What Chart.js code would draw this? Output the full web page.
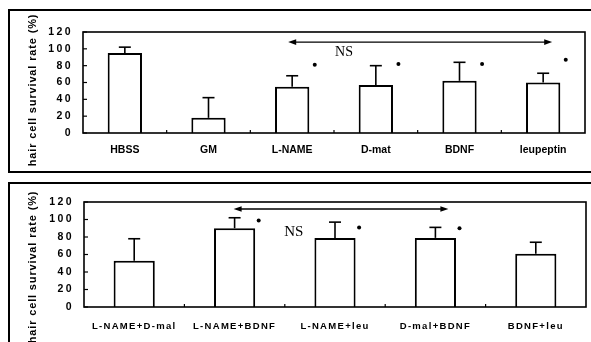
<!DOCTYPE html>
<html><head><meta charset="utf-8">
<script src="https://cdn.jsdelivr.net/npm/chart.js@4.4.1/dist/chart.umd.min.js"></script>
<style>
html,body{margin:0;padding:0;background:#fff;width:591px;height:342px;overflow:hidden;position:relative}
.panel{position:absolute;border:2px solid #000;box-sizing:border-box}
#p1{left:8px;top:9px;width:600px;height:164px}
#p2{left:8px;top:182px;width:600px;height:200px}
.cv{position:absolute}
#w1{left:10px;top:12px;width:581px;height:158px}
#w2{left:10px;top:185px;width:581px;height:157px}
</style></head>
<body>
<div class="panel" id="p1"></div>
<div class="panel" id="p2"></div>
<div class="cv" id="w1"><canvas id="c1"></canvas></div>
<div class="cv" id="w2"><canvas id="c2"></canvas></div>
<script>
// ---- data ----
const yTicks = [0, 20, 40, 60, 80, 100, 120];
const yTitle = 'hair cell survival rate (%)';

const topCategories = ['HBSS', 'GM', 'L-NAME', 'D-mat', 'BDNF', 'leupeptin'];
const topMeans = [95, 18, 55, 57, 62, 60];
const topErrors = [7, 24, 13, 23, 22, 11];
const topSignificance = [null, null, 81, 82, 82, 87];
const topNSRange = [2, 5];      // categories spanned by the NS arrow
const topNSLevel = 108;         // value at which the NS arrow is drawn
const topNSLabelValue = 96;

const bottomCategories = ['L-NAME+D-mal', 'L-NAME+BDNF', 'L-NAME+leu', 'D-mal+BDNF', 'BDNF+leu'];
const bottomMeans = [53, 90, 79, 79, 61];
const bottomErrors = [25, 12, 18, 12, 13];
const bottomSignificance = [null, 99, 91, 90, null];
const bottomNSRange = [1, 3];
const bottomNSLevel = 112;
const bottomNSLabelValue = 86;

// ---- plugins ----
const spacing = {
  id: 'spacing',
  beforeDraw(chart, args, o) {
    ['x', 'y'].forEach(k => {
      const s = chart.scales[k];
      if (!s || s._spPatched) return;
      const orig = s.drawLabels.bind(s);
      s.drawLabels = function (area) {
        const c = this.ctx; const prev = c.letterSpacing;
        c.letterSpacing = o[k] || '0px';
        orig(area);
        c.letterSpacing = prev;
      };
      s._spPatched = true;
    });
  }
};

const decor = {
  id: 'decor',
  afterDatasetsDraw(chart, args, o) {
    const ctx = chart.ctx, xs = chart.scales.x, ys = chart.scales.y, a = chart.chartArea;
    const line = (x1, y1, x2, y2) => { ctx.beginPath(); ctx.moveTo(x1, y1); ctx.lineTo(x2, y2); ctx.stroke(); };
    ctx.save();
    ctx.strokeStyle = '#000'; ctx.fillStyle = '#000';
    ctx.lineWidth = 1.6;
    ctx.strokeRect(a.left, a.top, a.right - a.left, a.bottom - a.top);
    // inward y ticks
    ctx.lineWidth = 1.2;
    ys.ticks.forEach(t => { const py = ys.getPixelForValue(t.value); line(a.left, py, a.left + 4, py); });
    // category boundary ticks
    const n = chart.data.labels.length, w = (a.right - a.left) / n;
    for (let i = 1; i < n; i++) { const px = a.left + i * w; line(px, a.bottom, px, a.bottom - 3); }
    // error bars
    ctx.lineWidth = 1.6;
    o.means.forEach((m, i) => {
      const px = xs.getPixelForValue(i);
      const y0 = ys.getPixelForValue(m), y1 = ys.getPixelForValue(m + o.errors[i]);
      line(px, y0, px, y1); line(px - 6, y1, px + 6, y1);
    });
    // significance dots
    o.sig.forEach((v, i) => {
      if (v == null) return;
      const px = xs.getPixelForValue(i) + w * o.dotOffset;
      ctx.beginPath(); ctx.arc(px, ys.getPixelForValue(v), 2, 0, Math.PI * 2); ctx.fill();
    });
    // NS arrow
    const ay = ys.getPixelForValue(o.nsLevel);
    const ax1 = xs.getPixelForValue(o.nsRange[0]) + o.nsPad[0];
    const ax2 = xs.getPixelForValue(o.nsRange[1]) + o.nsPad[1];
    ctx.lineWidth = 1.3;
    line(ax1 + 5, ay, ax2 - 5, ay);
    ctx.beginPath(); ctx.moveTo(ax1, ay); ctx.lineTo(ax1 + 8, ay - 2.8); ctx.lineTo(ax1 + 8, ay + 2.8); ctx.closePath(); ctx.fill();
    ctx.beginPath(); ctx.moveTo(ax2, ay); ctx.lineTo(ax2 - 8, ay - 2.8); ctx.lineTo(ax2 - 8, ay + 2.8); ctx.closePath(); ctx.fill();
    // NS label
    ctx.font = o.nsFont;
    ctx.textAlign = 'center'; ctx.textBaseline = 'middle';
    ctx.fillText('NS', xs.getPixelForValue(o.nsLabelPos[0]) + w * o.nsLabelPos[1], ys.getPixelForValue(o.nsLabelValue));
    // y title
    ctx.translate(o.titleX, o.titleY);
    ctx.rotate(-Math.PI / 2);
    ctx.font = 'bold 11px "Liberation Sans", Arial, sans-serif';
    ctx.letterSpacing = '0.85px';
    ctx.fillText(yTitle, 0, 0);
    ctx.restore();
  }
};

function makeChart(id, labels, means, errors, sig, cfg) {
  return new Chart(document.getElementById(id), {
    type: 'bar',
    data: {
      labels: labels,
      datasets: [{
        data: means,
        backgroundColor: '#fff',
        borderColor: '#000',
        borderWidth: 2,
        categoryPercentage: 1,
        barPercentage: 0.41
      }]
    },
    options: {
      responsive: true, maintainAspectRatio: false, animation: false, devicePixelRatio: 1,
      layout: { padding: cfg.padding },
      plugins: {
        legend: { display: false }, tooltip: { enabled: false },
        spacing: { x: cfg.xSpacing, y: '2.4px' },
        decor: {
          means: means, errors: errors, sig: sig, dotOffset: cfg.dotOffset,
          nsRange: cfg.nsRange, nsLevel: cfg.nsLevel, nsPad: cfg.nsPad,
          nsLabelPos: cfg.nsLabelPos, nsLabelValue: cfg.nsLabelValue, nsFont: cfg.nsFont,
          titleX: 23, titleY: cfg.titleY
        }
      },
      scales: {
        x: {
          grid: { display: false, drawTicks: false }, border: { display: false },
          ticks: { color: '#000', font: { family: '"Liberation Sans", Arial, sans-serif', size: cfg.xFont, weight: 'bold' }, padding: cfg.xPad, maxRotation: 0, autoSkip: false },
          afterFit: s => { s.height = cfg.xHeight; }
        },
        y: {
          min: 0, max: 120,
          grid: { display: false, drawTicks: false }, border: { display: false },
          afterBuildTicks: s => { s.ticks = yTicks.map(v => ({ value: v })); },
          ticks: { color: '#000', font: { family: '"Liberation Sans", Arial, sans-serif', size: 10.5, weight: 'bold' }, padding: 10 },
          afterFit: s => { s.width = cfg.yWidth; }
        }
      }
    },
    plugins: [spacing, decor]
  });
}

makeChart('c1', topCategories, topMeans, topErrors, topSignificance, {
  padding: { top: 20, right: 6, bottom: 0, left: 0 }, xSpacing: '0px', xFont: 10.5, xPad: 11, xHeight: 37, yWidth: 73,
  dotOffset: 0.27, nsRange: topNSRange, nsLevel: topNSLevel, nsPad: [-4, 9],
  nsLabelPos: [2, 0.62], nsLabelValue: topNSLabelValue, nsFont: '14px "Liberation Serif", "Times New Roman", serif', titleY: 78
});
makeChart('c2', bottomCategories, bottomMeans, bottomErrors, bottomSignificance, {
  padding: { top: 17, right: 5, bottom: 0, left: 0 }, xSpacing: '1.3px', xFont: 9.5, xPad: 14, xHeight: 35, yWidth: 74,
  dotOffset: 0.24, nsRange: bottomNSRange, nsLevel: bottomNSLevel, nsPad: [-1, 13],
  nsLabelPos: [1, 0.59], nsLabelValue: bottomNSLabelValue, nsFont: '15px "Liberation Serif", "Times New Roman", serif', titleY: 82
});
</script>
</body></html>
